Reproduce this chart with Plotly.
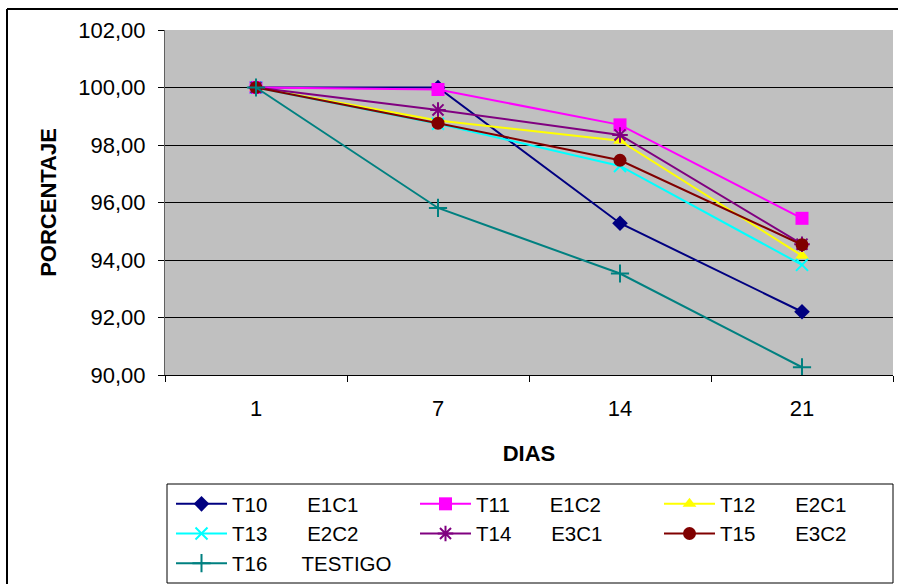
import plotly.graph_objects as go

dias = ["1", "7", "14", "21"]

series_names = [
    "T10\u00a0\u00a0\u00a0\u00a0\u00a0\u00a0\u00a0E1C1",
    "T11\u00a0\u00a0\u00a0\u00a0\u00a0\u00a0\u00a0E1C2",
    "T12\u00a0\u00a0\u00a0\u00a0\u00a0\u00a0\u00a0E2C1",
    "T13\u00a0\u00a0\u00a0\u00a0\u00a0\u00a0\u00a0E2C2",
    "T14\u00a0\u00a0\u00a0\u00a0\u00a0\u00a0\u00a0E3C1",
    "T15\u00a0\u00a0\u00a0\u00a0\u00a0\u00a0\u00a0E3C2",
    "T16\u00a0\u00a0\u00a0\u00a0\u00a0\u00a0TESTIGO",
]

t10 = [100.00, 100.00, 95.28, 92.20]
t11 = [100.00, 99.93, 98.70, 95.45]
t12 = [100.00, 98.85, 98.15, 94.15]
t13 = [100.00, 98.74, 97.27, 93.83]
t14 = [100.00, 99.22, 98.35, 94.55]
t15 = [100.00, 98.76, 97.47, 94.53]
t16 = [100.00, 95.81, 93.53, 90.27]

values = [t10, t11, t12, t13, t14, t15, t16]
colors = ["#000080", "#FF00FF", "#FFFF00", "#00FFFF", "#800080", "#800000", "#008080"]
symbols = ["diamond", "square", "triangle-up", "x-thin", "asterisk", "circle", "cross-thin"]
sizes = [12, 13, 12, 12, 13, 13, 13]

FONT = "Arial, Liberation Sans, sans-serif"

fig = go.Figure()
for name, vals, col, sym, sz in zip(series_names, values, colors, symbols, sizes):
    thin = sym in ("x-thin", "asterisk", "cross-thin")
    fig.add_trace(go.Scatter(
        x=dias, y=vals, name=name, mode="lines+markers",
        line=dict(color=col, width=2),
        marker=dict(symbol=sym, size=sz, color=col,
                    line=dict(color=col, width=2 if thin else 0)),
    ))

W, H = 898, 584
L, R, T, B = 165, 5, 30, 209
pw, ph = W - L - R, H - T - B

def px(x):
    return (x - L) / pw

def py(y):
    return (H - B - y) / ph

shapes = [
    # outer chart border (top and left edges visible)
    dict(type="line", xref="paper", yref="paper",
         x0=px(7), x1=px(905), y0=py(9), y1=py(9),
         line=dict(color="black", width=2), layer="below"),
    dict(type="line", xref="paper", yref="paper",
         x0=px(7), x1=px(7), y0=py(9), y1=py(600),
         line=dict(color="black", width=2), layer="below"),
    # legend box
    dict(type="rect", xref="paper", yref="paper",
         x0=px(167), x1=px(893), y0=py(484), y1=py(583),
         line=dict(color="black", width=1), fillcolor="white", layer="above"),
]

fig.update_layout(
    width=W, height=H,
    margin=dict(l=L, r=R, t=T, b=B, pad=0, autoexpand=False),
    paper_bgcolor="white",
    plot_bgcolor="#C0C0C0",
    separators=",.",
    font=dict(family=FONT, size=22, color="black"),
    shapes=shapes,
    showlegend=True,
    legend=dict(
        orientation="h", xref="container", yref="container",
        x=171 / W, xanchor="left", y=1 - 484 / H, yanchor="top",
        bgcolor="rgba(0,0,0,0)", borderwidth=0,
        font=dict(family=FONT, size=20.5, color="black"),
        itemwidth=51,
        entrywidth=178, entrywidthmode="pixels",
        traceorder="normal",
    ),
    xaxis=dict(
        type="category", range=[-0.5, 3.5], autorange=False,
        tickson="boundaries", ticks="outside", ticklen=6,
        tickcolor="black", showline=True, linecolor="black", linewidth=1,
        mirror=False, showgrid=False, ticklabelstandoff=14,
        tickfont=dict(family=FONT, size=22),
        title=dict(text="<b>DIAS</b>", font=dict(family=FONT, size=22), standoff=25),
    ),
    yaxis=dict(
        range=[90, 102], autorange=False, dtick=2, tick0=90, tickformat=".2f",
        ticks="outside", ticklen=6, tickcolor="black",
        showline=True, linecolor="#606060", linewidth=1, mirror=False,
        showgrid=True, gridcolor="black", gridwidth=1, zeroline=False,
        ticklabelstandoff=8,
        tickfont=dict(family=FONT, size=22),
        title=dict(text="<b>PORCENTAJE</b>", font=dict(family=FONT, size=22), standoff=15),
    ),
)

fig.write_html("out.html")
